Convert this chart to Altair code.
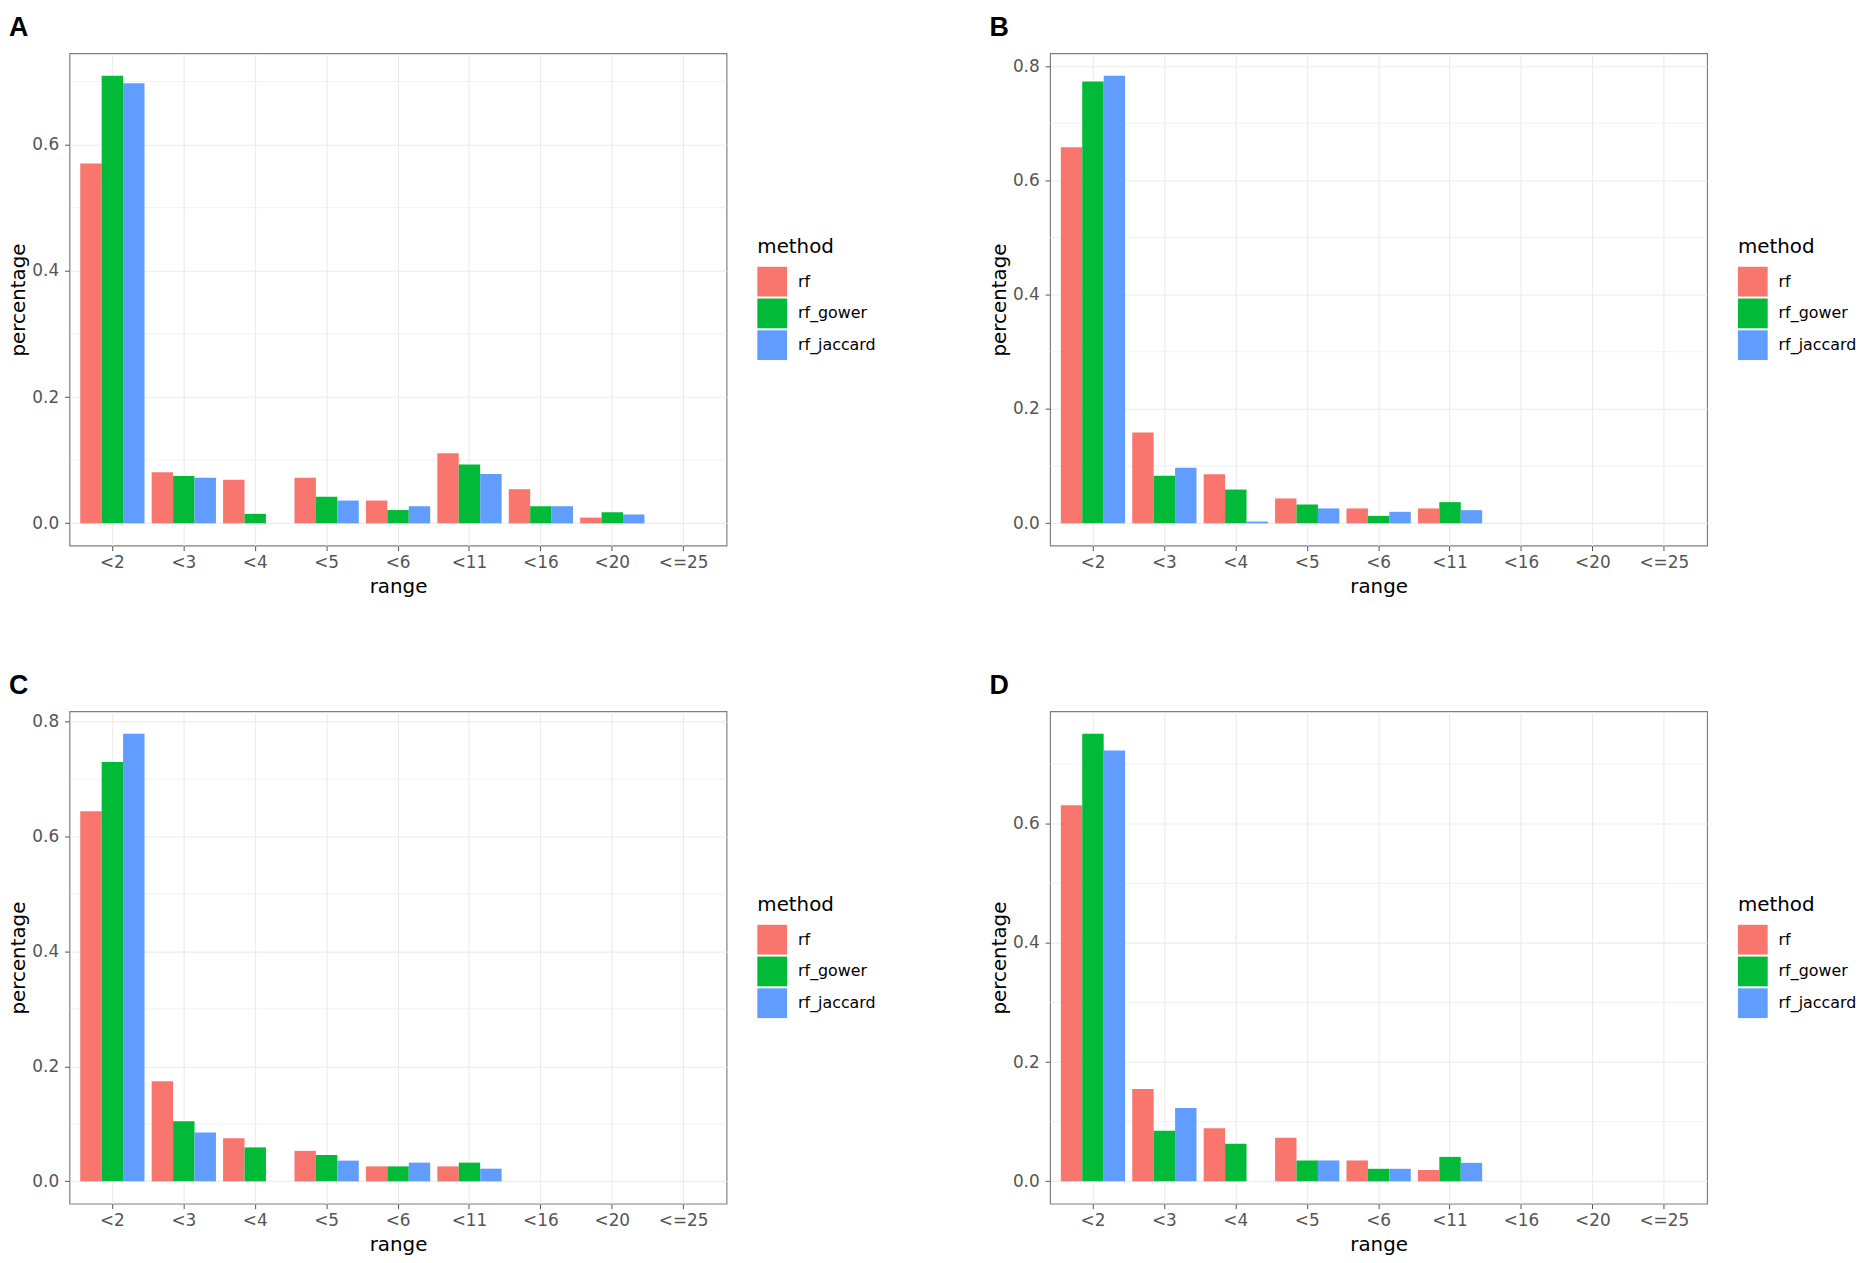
import altair as alt
import pandas as pd

RANGES = ["<2", "<3", "<4", "<5", "<6", "<11", "<16", "<20", "<=25"]
METHODS = ["rf", "rf_gower", "rf_jaccard"]
COLORS = ["#F8766D", "#00BA38", "#619CFF"]
MAJOR_TICKS = [0.0, 0.2, 0.4, 0.6, 0.8]
MINOR_TICKS = [0.1, 0.3, 0.5, 0.7]

A_RF = [0.570, 0.081, 0.069, 0.072, 0.036, 0.111, 0.054, 0.009, None]
A_GOWER = [0.709, 0.075, 0.015, 0.042, 0.021, 0.093, 0.027, 0.0175, None]
A_JACCARD = [0.697, 0.072, None, 0.036, 0.027, 0.078, 0.027, 0.014, None]

B_RF = [0.658, 0.159, 0.086, 0.0435, 0.026, 0.026, None, None, None]
B_GOWER = [0.773, 0.083, 0.059, 0.033, 0.013, 0.037, None, None, None]
B_JACCARD = [0.783, 0.097, 0.003, 0.026, 0.020, 0.023, None, None, None]

C_RF = [0.644, 0.174, 0.075, 0.053, 0.026, 0.026, None, None, None]
C_GOWER = [0.730, 0.1045, 0.059, 0.046, 0.026, 0.0325, None, None, None]
C_JACCARD = [0.779, 0.085, None, 0.036, 0.0325, 0.022, None, None, None]

D_RF = [0.631, 0.155, 0.089, 0.073, 0.035, 0.019, None, None, None]
D_GOWER = [0.751, 0.085, 0.063, 0.035, 0.021, 0.041, None, None, None]
D_JACCARD = [0.723, 0.123, None, 0.035, 0.021, 0.031, None, None, None]

PANELS = [
    ("A", [A_RF, A_GOWER, A_JACCARD]),
    ("B", [B_RF, B_GOWER, B_JACCARD]),
    ("C", [C_RF, C_GOWER, C_JACCARD]),
    ("D", [D_RF, D_GOWER, D_JACCARD]),
]

FONT = "DejaVu Sans"
W, H = 662, 496


def panel(letter, series):
    rows = []
    for m, vals in zip(METHODS, series):
        for r, v in zip(RANGES, vals):
            if v is not None:
                rows.append({"range": r, "method": m, "percentage": v})
    df = pd.DataFrame(rows)
    vmax = df["percentage"].max()
    dom = [-0.05 * vmax, 1.05 * vmax]
    yscale = alt.Scale(domain=dom, nice=False, zero=False)
    major = [t for t in MAJOR_TICKS if dom[0] <= t <= dom[1]]
    minor = pd.DataFrame({"v": [t for t in MINOR_TICKS if t <= dom[1]]})

    rules = alt.Chart(minor).mark_rule(color="#EBEBEB", strokeWidth=0.7).encode(
        y=alt.Y("v:Q", scale=yscale)
    )

    bars = alt.Chart(df).mark_bar(strokeWidth=0).encode(
        x=alt.X(
            "range:N",
            sort=RANGES,
            scale=alt.Scale(domain=RANGES, paddingInner=0.1, paddingOuter=0.15),
            axis=alt.Axis(
                title="range",
                labelAngle=0,
                bandPosition=0.5,
                grid=True,
                gridColor="#EBEBEB",
                gridWidth=1.1,
                domain=False,
                tickColor="#555555",
                tickSize=5,
                labelPadding=4,
                titlePadding=6,
            ),
        ),
        xOffset=alt.XOffset(
            "method:N",
            scale=alt.Scale(domain=METHODS, paddingInner=0, paddingOuter=0),
        ),
        y=alt.Y(
            "percentage:Q",
            scale=yscale,
            axis=alt.Axis(
                title="percentage",
                values=major,
                format=".1f",
                grid=True,
                gridColor="#EBEBEB",
                gridWidth=1.1,
                domain=False,
                tickColor="#555555",
                tickSize=5,
                labelPadding=6,
                titlePadding=3,
            ),
        ),
        color=alt.Color(
            "method:N",
            scale=alt.Scale(domain=METHODS, range=COLORS),
            legend=alt.Legend(
                title="method",
                orient="none",
                legendX=W + 31,
                legendY=185,
                symbolType="square",
                symbolSize=900,
                symbolStrokeWidth=0,
                symbolOpacity=1,
                rowPadding=2,
                labelOffset=11,
                titlePadding=10,
            ),
        ),
    )

    return alt.layer(rules, bars).properties(
        width=W,
        height=H,
        title=alt.TitleParams(
            letter,
            anchor="start",
            frame="bounds",
            font="Liberation Sans",
            fontSize=27,
            fontWeight="bold",
            color="black",
            offset=12,
        ),
    )


charts = [panel(l, s) for l, s in PANELS]

row1 = alt.hconcat(charts[0], charts[1], spacing=112).resolve_scale(
    x="independent", y="independent", color="independent"
)
row2 = alt.hconcat(charts[2], charts[3], spacing=112).resolve_scale(
    x="independent", y="independent", color="independent"
)

chart = (
    alt.vconcat(row1, row2, spacing=74)
    .resolve_scale(x="independent", y="independent", color="independent")
    .properties(padding=0, background="white")
    .configure_view(stroke="#7F7F7F", strokeWidth=1.2)
    .configure_axis(
        labelFont=FONT,
        labelFontSize=17,
        labelColor="#555555",
        titleFont=FONT,
        titleFontSize=20,
        titleFontWeight="normal",
        titleColor="black",
    )
    .configure_legend(
        labelFont=FONT,
        labelFontSize=16,
        labelColor="black",
        titleFont=FONT,
        titleFontSize=20,
        titleFontWeight="normal",
        titleColor="black",
    )
)

chart.save("out.html", embed_options={"renderer": "svg", "actions": False})
